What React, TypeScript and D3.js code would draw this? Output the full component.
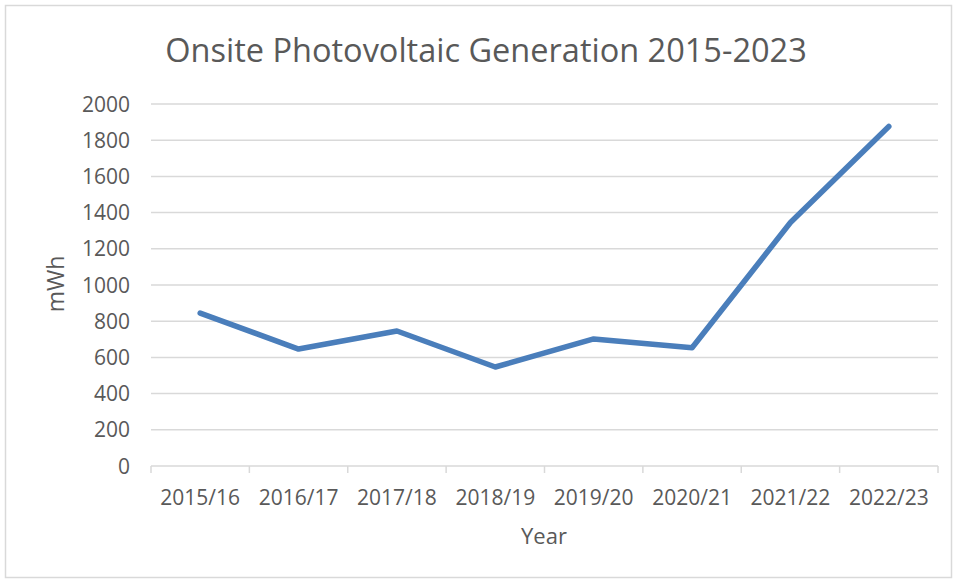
import * as d3 from "d3";

const years = ["2015/16", "2016/17", "2017/18", "2018/19", "2019/20", "2020/21", "2021/22", "2022/23"];
const generation = [845, 646, 746, 547, 702, 653, 1345, 1876];
const yTicks = [0, 200, 400, 600, 800, 1000, 1200, 1400, 1600, 1800, 2000];

const W = 957;
const H = 583;
const margin = { top: 104, right: 19, bottom: 117, left: 151 };
const font = "'Open Sans', sans-serif";
const textColor = "#595959";

export default function App() {
    const innerW = W - margin.left - margin.right;
    const innerH = H - margin.top - margin.bottom;

    const x = d3.scaleBand().domain(years).range([0, innerW]).padding(0);
    const y = d3.scaleLinear().domain([0, 2000]).range([innerH, 0]);

    const line = d3.line<number>()
        .x((_, i) => (x(years[i]) || 0) + x.bandwidth() / 2)
        .y(d => y(d));

    // tick marks at category boundaries
    const boundaries = years.map(c => x(c) || 0).concat([innerW]);

    return (
        <svg width={W} height={H} style={{ position: "absolute", left: 0, top: 0, background: "#fff" }}>
            <rect x={5.5} y={5.5} width={W - 11} height={H - 11} fill="#fff" stroke="#d9d9d9" strokeWidth={1.5} />
            <text x={486} y={62} textAnchor="middle" fontFamily={font} fontSize={32.5} fill={textColor}>
                Onsite Photovoltaic Generation 2015-2023
            </text>
            <g transform={`translate(${margin.left},${margin.top})`}>
                {yTicks.map(t => (
                    <g key={t}>
                        {t > 0 && (
                            <line x1={0} x2={innerW} y1={y(t)} y2={y(t)} stroke="#d9d9d9" strokeWidth={1.5} />
                        )}
                        <text x={-21} y={y(t)} dy="0.36em" textAnchor="end" fontFamily={font} fontSize={21} fill={textColor}>
                            {t}
                        </text>
                    </g>
                ))}
                <line x1={0} x2={innerW} y1={innerH} y2={innerH} stroke="#d9d9d9" strokeWidth={1.5} />
                {boundaries.map((b, i) => (
                    <line key={i} x1={b} x2={b} y1={innerH} y2={innerH + 7} stroke="#d9d9d9" strokeWidth={1.5} />
                ))}
                {years.map(c => (
                    <text key={c} x={(x(c) || 0) + x.bandwidth() / 2} y={innerH + 39} textAnchor="middle"
                          fontFamily={font} fontSize={21} fill={textColor}>
                        {c}
                    </text>
                ))}
                <path d={line(generation) || ""} fill="none" stroke="#4a7ebb" strokeWidth={5.5}
                      strokeLinejoin="round" strokeLinecap="round" />
            </g>
            <text x={544} y={544} textAnchor="middle" fontFamily={font} fontSize={22} fill={textColor}>Year</text>
            <text transform={`translate(64,284) rotate(-90)`} textAnchor="middle" fontFamily={font} fontSize={23} fill={textColor}>
                mWh
            </text>
        </svg>
    );
}
